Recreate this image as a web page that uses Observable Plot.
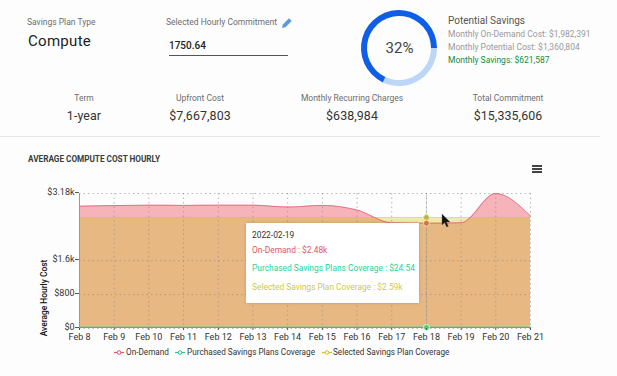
<!DOCTYPE html>
<html><head><meta charset="utf-8">
<script src="https://cdn.jsdelivr.net/npm/d3@7"></script>
<script src="https://cdn.jsdelivr.net/npm/@observablehq/plot@0.6"></script>
<style>
html,body{margin:0;padding:0;background:#fdfdfd;}
body{width:617px;height:376px;position:relative;overflow:hidden;font-family:Roboto,sans-serif;color:#333;}
.t{position:absolute;white-space:nowrap;line-height:1;}
.lab{font-size:8.5px;color:#6d6d6d;}
.val{font-size:12.4px;color:#333;letter-spacing:.1px;}
.c{transform:translateX(-50%);}
#chart,#donut{position:absolute;}
.tip{position:absolute;left:246px;top:223px;width:173px;height:80px;background:#fff;box-shadow:0 0 3px rgba(0,0,0,.18);}
</style></head><body>
<div class="t lab" style="left:27px;top:18px">Savings Plan Type</div>
<div class="t" style="left:28px;top:34px;font-size:15px;color:#222;letter-spacing:.3px">Compute</div>
<div class="t lab" style="left:166px;top:18px">Selected Hourly Commitment</div>
<svg style="position:absolute;left:281px;top:17px" width="12" height="12" viewBox="0 0 12 12"><path d="M1 11 L1.8 7.5 L8 1.3 L10.7 4 L4.5 10.2 Z" fill="#5b9bdc"/></svg>
<div class="t" style="left:169px;top:41px;font-size:10px;font-weight:500;color:#222">1750.64</div>
<div style="position:absolute;left:169px;top:55px;width:119px;height:1px;background:#555"></div>
<div id="donut" style="left:350px;top:0"></div>
<div class="t" style="left:448px;top:16px;font-size:10px;color:#555">Potential Savings</div>
<div class="t lab" style="left:448px;top:30px;color:#9a9a9a">Monthly On-Demand Cost: $1,982,391</div>
<div class="t lab" style="left:448px;top:43px;color:#9a9a9a">Monthly Potential Cost: $1,360,804</div>
<div class="t lab" style="left:448px;top:56px;color:#178a3e">Monthly Savings: $621,587</div>
<div class="t lab c" style="left:84px;top:94px">Term</div>
<div class="t val c" style="left:84px;top:110px">1-year</div>
<div class="t lab c" style="left:200px;top:94px">Upfront Cost</div>
<div class="t val c" style="left:200px;top:110px">$7,667,803</div>
<div class="t lab c" style="left:352px;top:94px">Monthly Recurring Charges</div>
<div class="t val c" style="left:352px;top:110px">$638,984</div>
<div class="t lab c" style="left:508px;top:94px">Total Commitment</div>
<div class="t val c" style="left:508px;top:110px">$15,335,606</div>
<div style="position:absolute;left:0;top:136px;width:600px;height:1px;background:#e6e6ec"></div>
<div class="t" style="left:28px;top:155px;font-size:8.2px;font-weight:700;color:#373d3f">AVERAGE COMPUTE COST HOURLY</div>
<div style="position:absolute;left:532px;top:165px;width:10px;height:1.5px;background:#444;box-shadow:0 3px 0 #444,0 6px 0 #444"></div>
<div id="chart" style="left:0;top:180px"></div>
<div class="tip"></div>
<div class="t" style="left:252px;top:231px;font-size:8.4px;color:#333">2022-02-19</div>
<div class="t" style="left:252px;top:246px;font-size:8.4px;color:#e0556b">On-Demand : $2.48k</div>
<div class="t" style="left:252px;top:264px;font-size:8.4px;color:#1fd39a">Purchased Savings Plans Coverage : $24.54</div>
<div class="t" style="left:252px;top:283px;font-size:8.4px;color:#c9cb4d">Selected Savings Plan Coverage : $2.59k</div>
<svg style="position:absolute;left:441px;top:214px" width="10" height="14" viewBox="0 0 10 14"><path d="M1 0 L1 11 L3.6 8.6 L5.6 13 L7.4 12.2 L5.4 8 L9 8 Z" fill="#111" stroke="#666" stroke-width=".4"/></svg>
<svg style="position:absolute;left:113px;top:348px" width="340" height="9" id="lg"></svg>
<div class="t" style="left:126px;top:348px;font-size:8.2px;color:#333">On-Demand</div>
<div class="t" style="left:187px;top:348px;font-size:8.2px;color:#333">Purchased Savings Plans Coverage</div>
<div class="t" style="left:333px;top:348px;font-size:8.2px;color:#333">Selected Savings Plan Coverage</div>
<script>
const dayLabels = ["2022-02-08","2022-02-09","2022-02-10","2022-02-11","2022-02-12","2022-02-13","2022-02-14","2022-02-15","2022-02-16","2022-02-17","2022-02-18","2022-02-19","2022-02-20","2022-02-21"];
const onDemand  = [2880,2895,2905,2900,2905,2905,2860,2900,2790,2490,2480,2490,3180,2650];
const purchased = [24.54,24.54,24.54,24.54,24.54,24.54,24.54,24.54,24.54,24.54,24.54,24.54,24.54,24.54];
const selected  = [2615,2615,2615,2615,2615,2615,2615,2615,2615,2615,2615,2615,2615,2615];
const yTicks = [0,800,1600,3180];
const yTickLabels = ["$0","$800","$1.6k","$3.18k"];
const highlightDay = "2022-02-18";
const savingsShare = [32,68];

const RED="#e0556b", GREEN="#1fc98f", YEL="#cec31d";
const days = dayLabels.map(d=>new Date(d+"T00:00:00Z"));
const rows = days.map((d,i)=>({d,od:onDemand[i],pu:purchased[i],se:selected[i]}));
const hl = rows[dayLabels.indexOf(highlightDay)];
const crv = "monotone-x";

const chart = Plot.plot({
  width:617,height:170,
  marginLeft:79,marginRight:87,marginTop:13,marginBottom:22,
  style:{background:"transparent",fontFamily:"Roboto,sans-serif",fontSize:"9px",color:"#333"},
  x:{type:"utc",domain:[days[0],days[days.length-1]]},
  y:{domain:[0,3180],range:[148,13]},
  marks:[
    Plot.areaY(rows,{x:"d",y:"od",curve:crv,fill:"#f6b3ba"}),
    Plot.areaY(rows,{x:"d",y:"se",curve:crv,fill:YEL,fillOpacity:.35}),
    Plot.areaY(rows,{x:"d",y:"pu",curve:crv,fill:GREEN,fillOpacity:.5}),
    Plot.ruleX(days,{x:d=>d,stroke:"#8a8a8a",strokeOpacity:.6,strokeDasharray:"1.5,3"}),
    Plot.ruleY(yTicks,{y:d=>d,stroke:"#8a8a8a",strokeOpacity:.6,strokeDasharray:"1.5,3"}),
    Plot.lineY(rows,{x:"d",y:"se",curve:crv,stroke:YEL,strokeOpacity:.3,strokeWidth:1}),
    Plot.lineY(rows,{x:"d",y:"od",curve:crv,stroke:RED,strokeWidth:.9,strokeOpacity:.8}),
    Plot.lineY(rows,{x:"d",y:"pu",curve:crv,stroke:GREEN,strokeWidth:1.3}),
    Plot.ruleX([hl.d],{x:d=>d,stroke:"#8f8f8f",strokeWidth:1,strokeOpacity:.35}),
    Plot.dot([hl],{x:"d",y:"se",r:3,fill:"#b5b93a",stroke:"#f3f0b8",strokeWidth:1}),
    Plot.dot([hl],{x:"d",y:"od",r:3,fill:"#d4714f",stroke:"#f5e0b0",strokeWidth:1}),
    Plot.dot([hl],{x:"d",y:"pu",r:3,fill:"#3fd66b",stroke:"#dff5e0",strokeWidth:1}),
    Plot.ruleX([days[0]],{x:d=>d,stroke:"#999",strokeWidth:1}),
    Plot.axisY({ticks:yTicks,tickFormat:d=>yTickLabels[yTicks.indexOf(d)],label:null,tickSize:4,tickPadding:1,fontSize:9,stroke:"#555",dy:-1}),
    Plot.axisX({ticks:days,tickFormat:d=>"Feb "+d.getUTCDate(),label:null,tickSize:2,tickPadding:3,fontSize:9,stroke:"#555"}),
    Plot.text(["Average Hourly Cost"],{text:d=>d,frameAnchor:"left",rotate:-90,dx:-35,dy:37,fontSize:8.4,fontWeight:500,fill:"#111",textAnchor:"middle"})
  ]
});
document.getElementById("chart").append(chart);

// donut
const pie = d3.pie().sort(null).startAngle(Math.PI/2).endAngle(Math.PI/2+2*Math.PI)(savingsShare);
const arc = d3.arc().innerRadius(32).outerRadius(38);
const donutColors = ["#bcd6f7","#0f5fe6"];
const donut = Plot.plot({
  width:100,height:96,margin:0,axis:null,
  style:{background:"transparent",fontFamily:"Roboto,sans-serif"},
  marks:[
    (index,scales,values,dim)=>{
      const g=d3.create("svg:g").attr("transform","translate(49,48)");
      pie.forEach((p,i)=>g.append("path").attr("d",arc(p)).attr("fill",donutColors[i]));
      return g.node();
    },
    Plot.text([savingsShare[0]+"%"],{text:d=>d,frameAnchor:"middle",dx:-1,fontSize:15,fill:"#444"})
  ]
});
document.getElementById("donut").append(donut);

// legend markers
const lg=d3.select("#lg");
[[1,RED],[62,GREEN],[209,YEL]].forEach(([x,c])=>{
  lg.append("line").attr("x1",x).attr("x2",x+10).attr("y1",4.5).attr("y2",4.5).attr("stroke",c).attr("stroke-width",1.2);
  lg.append("circle").attr("cx",x+5).attr("cy",4.5).attr("r",1.8).attr("fill","#fff").attr("stroke",c);
});
</script>
</body></html>
